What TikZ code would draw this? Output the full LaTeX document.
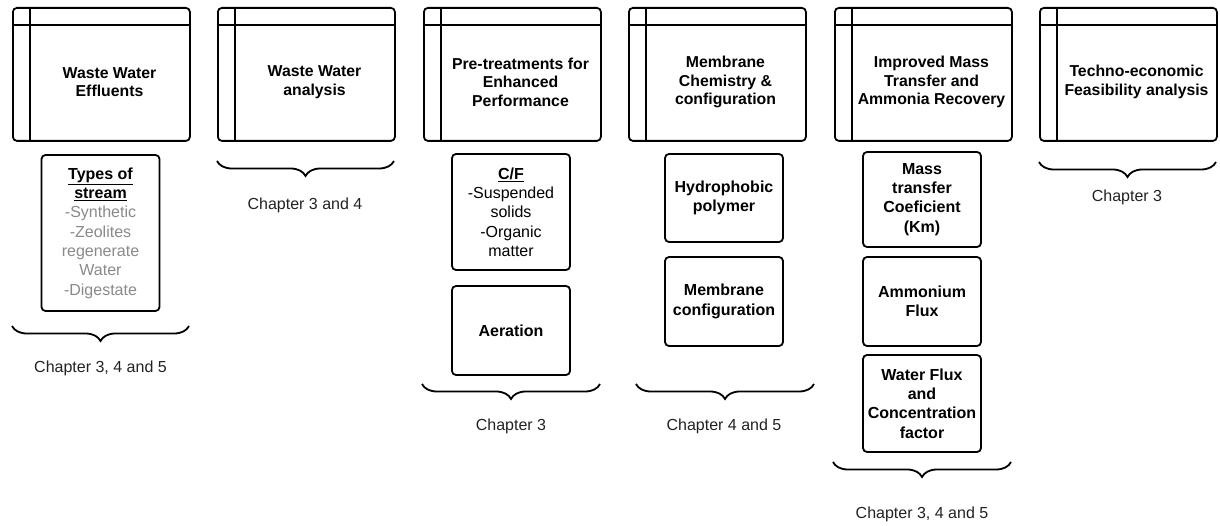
\documentclass[tikz,border=0pt]{standalone}
\usepackage{fontspec}
\setmainfont{Liberation Sans}
\usetikzlibrary{decorations.pathreplacing}
\definecolor{chtext}{HTML}{222222}
\definecolor{subtext}{HTML}{8A8A8A}

% A chapter frame: rounded box with a narrow left strip and a top strip
\newcommand\chapterframe[3]{%
  \node[frame, minimum width=177pt, minimum height=133pt, anchor=north west] (#1) at (#2,7) {};
  \draw[frameline] ([xshift=18pt]#1.north west) -- ([xshift=18pt]#1.south west);
  \draw[frameline] ([yshift=-18pt]#1.north west) -- ([yshift=-18pt]#1.north east);
  \node[hdrtext] (#1-t) at (#2+97.5,82) {#3};
}

\begin{document}
\begin{tikzpicture}[x=1pt,y=-1pt,
  frame/.style={draw=black, line width=1.8pt, rounded corners=4pt, fill=white},
  frameline/.style={draw=black, line width=1.8pt},
  hdrtext/.style={font=\fontsize{15.8}{18.5}\selectfont\bfseries, align=center, inner sep=0pt},
  itembox/.style={frame, align=center, inner sep=0pt, minimum width=118pt,
                  font=\fontsize{16}{19.3}\selectfont\bfseries},
  chlabel/.style={font=\fontsize{16}{19}\selectfont, text=chtext, inner sep=0pt},
  chbrace/.style={draw=black, line width=1.8pt, decorate,
                  decoration={brace, mirror, amplitude=15pt, aspect=0.5}},
]
\useasboundingbox (0,0) rectangle (1220,526);

% Top row of chapter frames
\chapterframe{h1}{12}{Waste Water\\Effluents}
\chapterframe{h2}{217}{Waste Water\\analysis}
\chapterframe{h3}{423}{Pre-treatments for\\Enhanced\\Performance}
\chapterframe{h4}{628}{Membrane\\Chemistry \&\\configuration}
\chapterframe{h5}{834}{Improved Mass\\Transfer and\\Ammonia Recovery}
\chapterframe{h6}{1039}{Techno-economic\\Feasibility analysis}

% Topic boxes
\node[itembox, minimum height=156pt] (types) at (100.5,233)
  {\underline{Types of}\\\underline{stream}\\
   {\color{subtext}\mdseries -Synthetic}\\{\color{subtext}\mdseries -Zeolites}\\
   {\color{subtext}\mdseries regenerate}\\{\color{subtext}\mdseries Water}\\
   {\color{subtext}\mdseries -Digestate}};
\node[itembox, minimum height=116pt] (cf) at (511,212)
  {\underline{C/F}\\{\mdseries -Suspended}\\{\mdseries solids}\\{\mdseries -Organic}\\{\mdseries matter}};
\node[itembox, minimum height=89pt] (aer) at (511,330.5) {Aeration};
\node[itembox, minimum height=88pt] (hyd) at (724,198) {Hydrophobic\\polymer};
\node[itembox, minimum height=89pt] (mcfg) at (724,301.5) {Membrane\\configuration};
\node[itembox, minimum height=95pt] (mtc) at (922,199.5) {Mass\\transfer\\Coeficient\\(Km)};
\node[itembox, minimum height=89pt] (amm) at (922,301.5) {Ammonium\\Flux};
\node[itembox, minimum height=97pt] (wfx) at (922,403.5) {Water Flux\\and\\Concentration\\factor};

% Brace end points
\coordinate (b1l) at (12,326);   \coordinate (b1r) at (189,326);
\coordinate (b2l) at (217,161);  \coordinate (b2r) at (394,161);
\coordinate (b3l) at (422,384);  \coordinate (b3r) at (600,384);
\coordinate (b4l) at (636,384);  \coordinate (b4r) at (814,384);
\coordinate (b5l) at (833,462);  \coordinate (b5r) at (1011,462);
\coordinate (b6l) at (1039,162); \coordinate (b6r) at (1216,162);

\draw[chbrace] (b1l) -- (b1r);
\draw[chbrace] (b2l) -- (b2r);
\draw[chbrace] (b3l) -- (b3r);
\draw[chbrace] (b4l) -- (b4r);
\draw[chbrace] (b5l) -- (b5r);
\draw[chbrace] (b6l) -- (b6r);

% Chapter labels
\node[chlabel] (l1) at (100.5,368) {Chapter 3, 4 and 5};
\node[chlabel] (l2) at (305,205) {Chapter 3 and 4};
\node[chlabel] (l3) at (511,426) {Chapter 3};
\node[chlabel] (l4) at (724,426) {Chapter 4 and 5};
\node[chlabel] (l5) at (922,514) {Chapter 3, 4 and 5};
\node[chlabel] (l6) at (1127,197) {Chapter 3};
\end{tikzpicture}
\end{document}
